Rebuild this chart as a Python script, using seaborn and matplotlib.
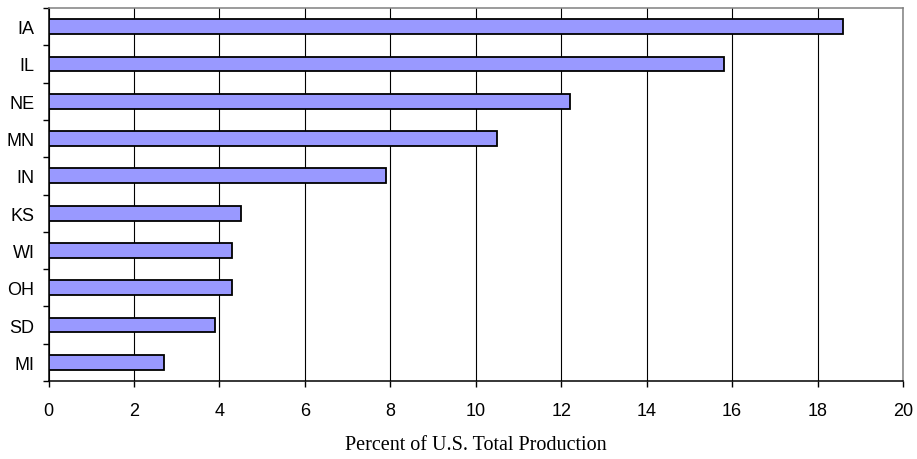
import matplotlib
matplotlib.use("Agg")
import matplotlib.pyplot as plt
import seaborn as sns
import pandas as pd
import numpy as np

states = ["IA", "IL", "NE", "MN", "IN", "KS", "WI", "OH", "SD", "MI"]
share = [18.6, 15.8, 12.2, 10.5, 7.9, 4.5, 4.3, 4.3, 3.9, 2.7]
x_ticks = [0, 2, 4, 6, 8, 10, 12, 14, 16, 18, 20]

df = pd.DataFrame({"state": states, "share": share})

sns.set_style("white")
plt.rcParams["font.family"] = ["Liberation Sans", "DejaVu Sans"]
plt.rcParams["text.color"] = "black"
plt.rcParams["axes.labelcolor"] = "black"
plt.rcParams["xtick.color"] = "black"
plt.rcParams["ytick.color"] = "black"

fig = plt.figure(figsize=(9.17, 4.6), dpi=100)
ax = fig.add_axes([0.0529, 0.1696, 0.9318, 0.8108])

sns.barplot(data=df, x="share", y="state", orient="h", color="#9999FF",
            saturation=1, edgecolor="black", linewidth=1.3, width=0.4, ax=ax,
            zorder=3)

ax.set_xlim(0, 20)
ax.set_ylim(len(states) - 0.5, -0.5)
ax.set_xticks(x_ticks)
ax.set_xticklabels([str(t) for t in x_ticks], fontsize=13)
ax.set_yticks(range(len(states)))
ax.set_yticklabels(states, fontsize=13)
ax.set_yticks(np.arange(-0.5, len(states), 1.0), minor=True)

ax.tick_params(axis="y", which="major", left=True, length=0, pad=10,
               labelcolor="black")
ax.tick_params(axis="y", which="minor", left=True, length=4, width=1,
               color="black", direction="out")
ax.tick_params(axis="x", which="major", bottom=True, length=4, width=1,
               color="black", direction="out", pad=11, labelcolor="black")

ax.xaxis.grid(True, color="black", linewidth=0.8, zorder=0)
ax.yaxis.grid(False)
ax.set_axisbelow(True)

for side in ["left", "bottom"]:
    ax.spines[side].set_color("black")
    ax.spines[side].set_linewidth(1.1)
for side in ["top", "right"]:
    ax.spines[side].set_color("#808080")
    ax.spines[side].set_linewidth(1.1)

ax.set_ylabel("")
ax.set_xlabel("Percent of U.S. Total Production", family="Liberation Serif",
              fontsize=14.5, labelpad=12, color="black")

fig.savefig("out.png", dpi=100)
